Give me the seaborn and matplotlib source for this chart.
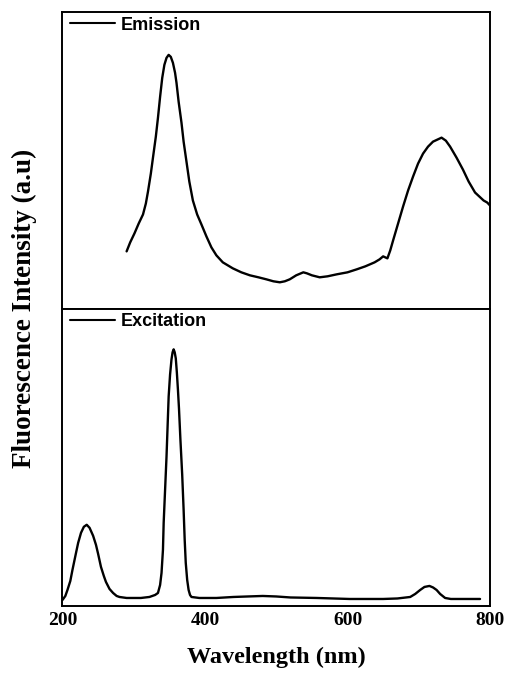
import matplotlib
matplotlib.use("Agg")
import matplotlib.pyplot as plt
from matplotlib.ticker import MultipleLocator
import seaborn as sns

# Emission spectrum (nm, a.u.)
em_wl = [290, 295, 301, 307, 313, 317, 320, 324, 327, 331, 334, 337, 340, 343,
         346, 349, 352, 355, 358, 360, 363, 367, 370, 374, 378, 383, 389, 395,
         402, 409, 416, 425, 439, 451, 463, 475, 486, 496, 505, 512, 519, 528,
         538, 543, 550, 561, 572, 585, 600, 613, 625, 638, 645, 650, 653, 656,
         660, 664, 671, 678, 685, 692, 699, 706, 713, 720, 726, 732, 738, 744,
         753, 762, 770, 779, 785, 791, 796, 800]
em_int = [57, 66, 75, 85, 94, 105, 117, 135, 151, 172, 191, 212, 231, 244,
          251, 254, 252, 246, 236, 226, 207, 186, 167, 147, 127, 108, 94, 84,
          72, 61, 53, 46, 40, 36, 33, 31, 29, 27, 26, 27, 29, 33,
          36, 35, 33, 31, 32, 34, 36, 39, 42, 46, 49, 52, 51, 50,
          58, 68, 85, 102, 118, 132, 145, 155, 162, 167, 169, 171, 168, 162,
          151, 139, 127, 116, 112, 108, 106, 103]

# Excitation spectrum (nm, a.u.)
ex_wl = [200, 204, 207, 211, 214, 219, 222, 226, 230, 234, 238, 243, 247, 250,
         254, 258, 261, 266, 271, 276, 280, 290, 299, 310, 322, 330, 334, 337,
         339, 341, 342, 344, 346, 347.5, 349, 351, 353, 354.5, 356, 357.5, 359,
         360.5, 362, 363.5, 365.5, 368, 370, 371.5, 373, 375, 377, 379, 381,
         392, 416, 440, 460, 481, 500, 520, 557, 603, 650, 670, 688, 695, 702,
         708, 715, 720, 725, 730, 737, 745, 758, 786]
ex_int = [5, 9, 15, 24, 35, 52, 62, 72, 78, 80, 77, 69, 60, 51,
          38, 29, 23, 16, 12, 9, 8, 7, 7, 7, 8, 10, 12, 20,
          32, 55, 82, 115, 148, 178, 208, 230, 245, 252, 255, 252, 246,
          232, 215, 196, 165, 130, 95, 65, 42, 25, 15, 10, 8,
          7, 7, 8, 8.5, 9, 8.5, 7.5, 7, 6, 6, 6.5, 8, 11, 15,
          18, 19, 17.5, 15, 11, 7, 6, 6, 6]

x_ticks = [200, 400, 600, 800]

sns.set_style("white")
plt.rcParams["font.family"] = ["Liberation Serif", "DejaVu Serif"]
plt.rcParams["axes.linewidth"] = 1.4
plt.rcParams["text.color"] = "black"
plt.rcParams["axes.labelcolor"] = "black"
plt.rcParams["xtick.color"] = "black"
plt.rcParams["ytick.color"] = "black"

fig, (ax_em, ax_ex) = plt.subplots(2, 1, sharex=True, figsize=(5.08, 6.74), dpi=100,
                                   gridspec_kw={"hspace": 0})
fig.subplots_adjust(left=0.123, right=0.9646, top=0.9815, bottom=0.1009)

sns.lineplot(x=em_wl, y=em_int, ax=ax_em, color="black", lw=1.7,
             sort=False, estimator=None, label="Emission")
sns.lineplot(x=ex_wl, y=ex_int, ax=ax_ex, color="black", lw=1.7,
             sort=False, estimator=None, label="Excitation")

ax_em.set_ylim(-1, 296.5)
ax_ex.set_ylim(-1, 295)
ax_ex.set_xlim(200, 800)
ax_ex.set_xticks(x_ticks)
ax_ex.xaxis.set_minor_locator(MultipleLocator(100))

for ax in (ax_em, ax_ex):
    ax.set_yticks([])
    for s in ax.spines.values():
        s.set_color("black")
        s.set_linewidth(1.4)
    leg = ax.legend(loc="center left", bbox_to_anchor=(0.0175, 0.957),
                    frameon=False, borderpad=0, borderaxespad=0,
                    handlelength=2.5, handletextpad=0.3,
                    prop={"family": "Liberation Sans", "weight": "bold", "size": 13})
    for h in leg.get_lines():
        h.set_linewidth(1.5)
    for t in leg.get_texts():
        t.set_color("black")

ax_em.tick_params(axis="x", which="both", bottom=False, labelbottom=False)
ax_ex.tick_params(axis="x", which="major", direction="inout", length=8, width=1.4,
                  pad=0.5, labelsize=14)
ax_ex.tick_params(axis="x", which="minor", direction="inout", length=6, width=1.4)
for lbl in ax_ex.get_xticklabels():
    lbl.set_fontweight("bold")

ax_ex.set_xlabel("Wavelength (nm)", fontsize=17.5, fontweight="bold", labelpad=13)
fig.text(0.049, 0.543, "Fluorescence Intensity (a.u)", rotation=90,
         ha="center", va="center", fontsize=19.5, fontweight="bold")

fig.savefig("out.png", dpi=100, facecolor="white")
